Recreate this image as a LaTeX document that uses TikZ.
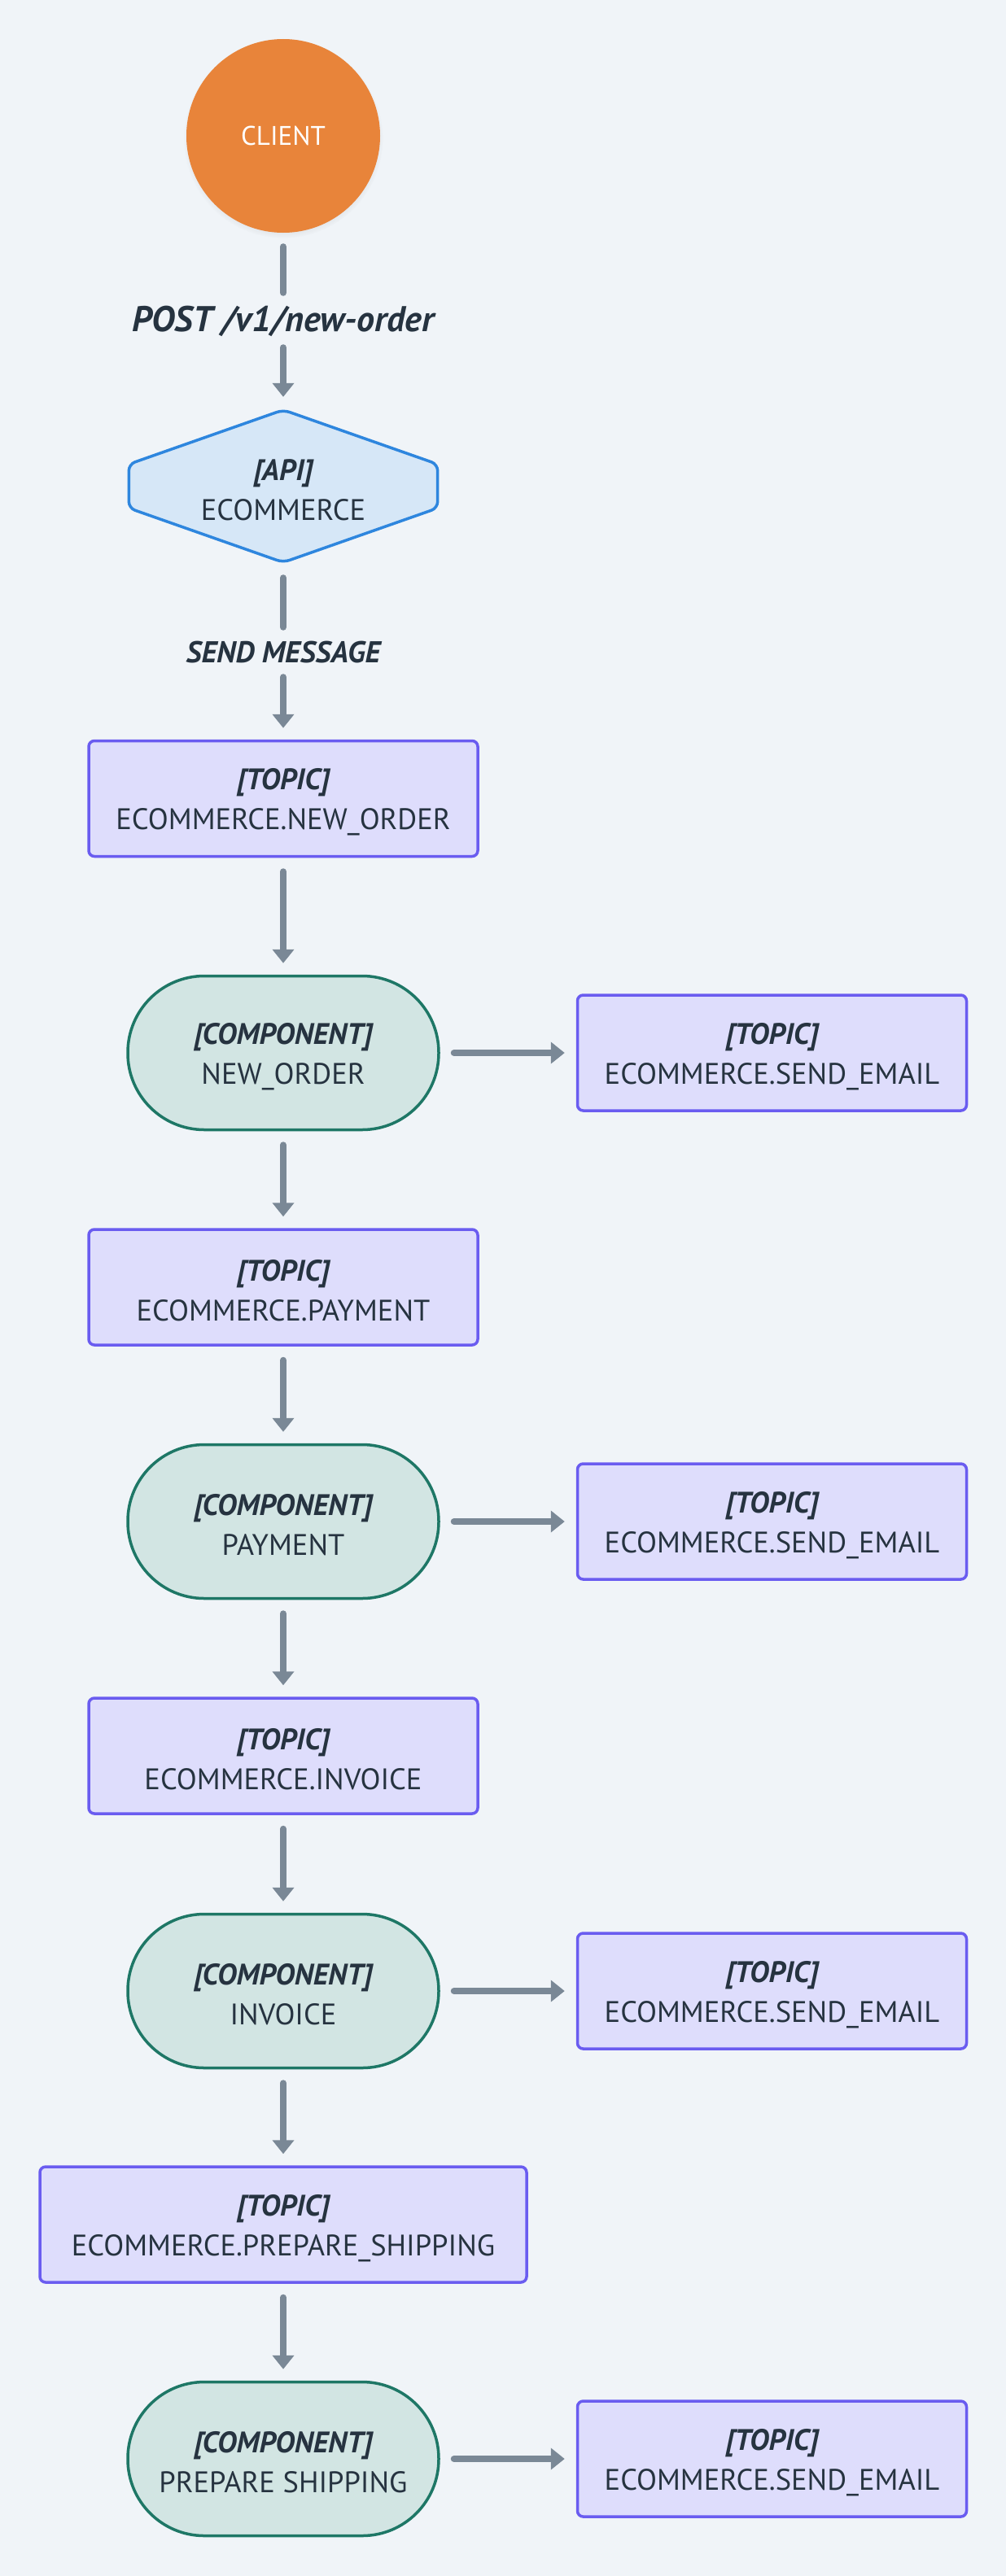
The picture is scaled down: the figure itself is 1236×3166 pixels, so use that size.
\documentclass[tikz,border=0pt]{standalone}
\usepackage{fontspec}
\setmainfont{PT Sans}
\usetikzlibrary{arrows.meta,shadows}
\definecolor{bg}{HTML}{F0F4F8}
\definecolor{ink}{HTML}{263340}
\definecolor{clientc}{HTML}{E8843A}
\definecolor{hexfill}{HTML}{D6E7F7}
\definecolor{hexline}{HTML}{2E86DE}
\definecolor{topicfill}{HTML}{DEDDFC}
\definecolor{topicline}{HTML}{6A5CF0}
\definecolor{compfill}{HTML}{D2E5E3}
\definecolor{compline}{HTML}{1E7766}
\definecolor{arrowc}{HTML}{7A8896}
\pgfdeclarelayer{background}
\pgfsetlayers{background,main}
\newcommand\mainfs{\fontsize{36.5}{49}\selectfont}
\newcommand\tagfs[1]{{\rule{0pt}{35pt}\bfseries\itshape #1}}
\begin{document}
\begin{tikzpicture}[x=1pt,y=-1pt,
  topicbox/.style={draw=topicline, fill=topicfill, line width=3.5pt, rounded corners=7pt,
    minimum width=478pt, minimum height=142pt, inner sep=0pt, align=center, text=ink, font=\mainfs},
  compbox/.style={draw=compline, fill=compfill, line width=3.5pt, rounded corners=94pt,
    minimum width=382pt, minimum height=189pt, inner sep=0pt, align=center, text=ink, font=\mainfs},
  flow/.style={draw=arrowc, line width=8pt, line cap=round, shorten <=17pt, shorten >=14pt,
    -{Triangle[width=26pt,length=17pt]}},
  flowline/.style={draw=arrowc, line width=8pt, line cap=round, shorten <=17pt, shorten >=17pt},
  edgelabel/.style={inner sep=0pt, text=ink, font=\bfseries\itshape}
]
\useasboundingbox (0,0) rectangle (1236,3166);
\begin{pgfonlayer}{background}
\fill[bg] (0,0) rectangle (1236,3166);
\end{pgfonlayer}

% client
\node[circle, fill=clientc, minimum size=238pt, inner sep=0pt, text=white,
  font=\fontsize{33}{38}\selectfont,
  circular drop shadow={shadow xshift=0pt, shadow yshift=-3pt, shadow scale=1.03, opacity=0.25}]
  (client) at (348,167) {CLIENT};

\node[edgelabel, font=\fontsize{44}{50}\selectfont\bfseries\itshape, text height=30.5pt, text depth=2.5pt]
  (lbl1) at (348,393.5) {POST /v1/new-order};

% api
\node[inner sep=0pt, minimum width=383pt, minimum height=191pt, align=center, text=ink, font=\mainfs]
  (api) at (348,597.5) {\tagfs{[API]}\\ECOMMERCE};
\begin{pgfonlayer}{background}
\draw[draw=hexline, fill=hexfill, line width=3.5pt, rounded corners=8pt]
  ([yshift=-2pt]api.north) -- ([xshift=-2pt,yshift=27pt]api.east) -- ([xshift=-2pt,yshift=-27pt]api.east)
  -- ([yshift=2pt]api.south) -- ([xshift=2pt,yshift=-27pt]api.west) -- ([xshift=2pt,yshift=27pt]api.west) -- cycle;
\end{pgfonlayer}

\node[edgelabel, font=\fontsize{37}{42}\selectfont\bfseries\itshape, text height=26pt, text depth=1pt]
  (lbl2) at (348,801.5) {SEND MESSAGE};

% topics and components
\node[topicbox] (t1) at (348,981.5) {\tagfs{[TOPIC]}\\ECOMMERCE.NEW\_ORDER};
\node[compbox] (c1) at (348,1294) {\tagfs{[COMPONENT]}\\NEW\_ORDER};
\node[topicbox] (s1) at (948.5,1294) {\tagfs{[TOPIC]}\\ECOMMERCE.SEND\_EMAIL};

\node[topicbox] (t2) at (348,1582) {\tagfs{[TOPIC]}\\ECOMMERCE.PAYMENT};
\node[compbox] (c2) at (348,1870) {\tagfs{[COMPONENT]}\\PAYMENT};
\node[topicbox] (s2) at (948.5,1870) {\tagfs{[TOPIC]}\\ECOMMERCE.SEND\_EMAIL};

\node[topicbox] (t3) at (348,2158) {\tagfs{[TOPIC]}\\ECOMMERCE.INVOICE};
\node[compbox] (c3) at (348,2447) {\tagfs{[COMPONENT]}\\INVOICE};
\node[topicbox] (s3) at (948.5,2447) {\tagfs{[TOPIC]}\\ECOMMERCE.SEND\_EMAIL};

\node[topicbox, minimum width=598pt] (t4) at (348,2734) {\tagfs{[TOPIC]}\\ECOMMERCE.PREPARE\_SHIPPING};
\node[compbox] (c4) at (348,3022) {\tagfs{[COMPONENT]}\\PREPARE SHIPPING};
\node[topicbox] (s4) at (948.5,3022) {\tagfs{[TOPIC]}\\ECOMMERCE.SEND\_EMAIL};

% connectors
\draw[flowline] (client.south) -- (lbl1.north);
\draw[flow] (lbl1.south) -- (api.north);
\draw[flowline] (api.south) -- (lbl2.north);
\draw[flow] (lbl2.south) -- (t1.north);
\draw[flow] (t1.south) -- (c1.north);
\draw[flow] (c1.east) -- (s1.west);
\draw[flow] (c1.south) -- (t2.north);
\draw[flow] (t2.south) -- (c2.north);
\draw[flow] (c2.east) -- (s2.west);
\draw[flow] (c2.south) -- (t3.north);
\draw[flow] (t3.south) -- (c3.north);
\draw[flow] (c3.east) -- (s3.west);
\draw[flow] (c3.south) -- (t4.north);
\draw[flow] (t4.south) -- (c4.north);
\draw[flow] (c4.east) -- (s4.west);
\end{tikzpicture}
\end{document}
